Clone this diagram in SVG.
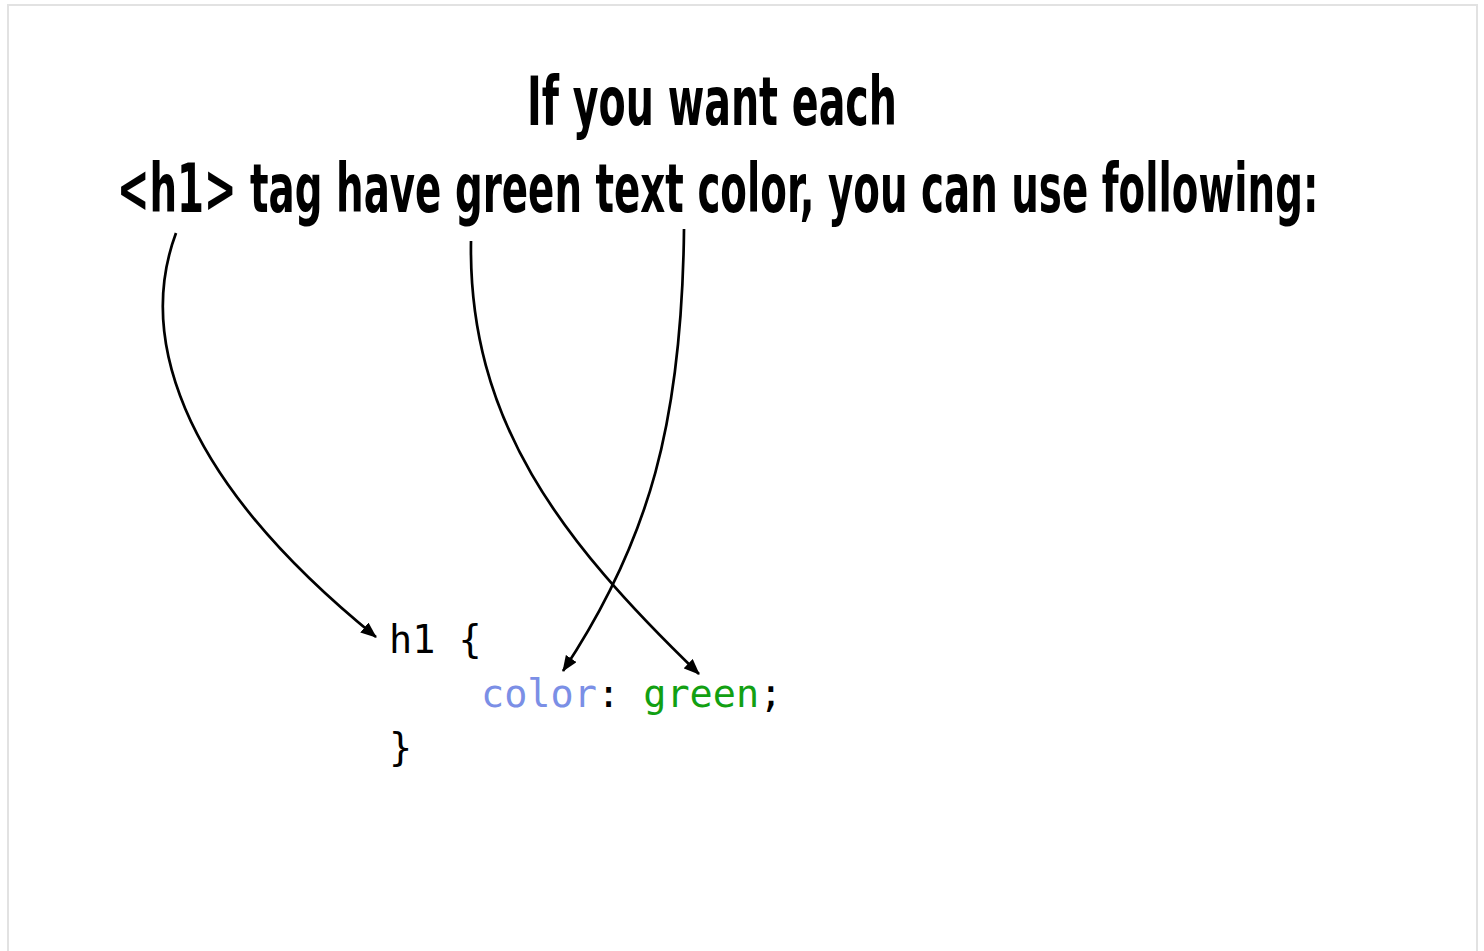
<svg xmlns="http://www.w3.org/2000/svg" width="1484" height="951" viewBox="0 0 1484 951">
<style>
.title{font-family:"Liberation Sans Narrow","DejaVu Sans Condensed","Liberation Sans",sans-serif;font-weight:bold;font-size:68px;fill:#000}
.code{font-family:"DejaVu Sans Mono","Liberation Mono",monospace;font-size:38.5px;fill:#000}
.conn{fill:none;stroke:#000;stroke-width:2.7}
</style>
<defs>
<marker id="ah" viewBox="0 0 16 13" refX="15" refY="6.5" markerWidth="16" markerHeight="13" markerUnits="userSpaceOnUse" orient="auto">
<path d="M0,0 L16,6.5 L0,13 z" fill="#000"/>
</marker>
</defs>
<rect x="0" y="0" width="1484" height="951" fill="#fff"/>
<rect x="8" y="5" width="1469" height="1000" fill="#fff" stroke="#e2e2e2" stroke-width="2"/>
<g id="title">
<text class="title" x="527" y="125" textLength="370" lengthAdjust="spacingAndGlyphs">If you want each</text>
<text class="title" transform="translate(117,212) scale(0.634,1)" x="0" y="0">&lt;h1&gt; tag have green text color, you can use following:</text>
</g>
<g id="code">
<text class="code" x="389" y="653">h1 {</text>
<text class="code" x="481" y="707"><tspan fill="#7b8fe6">color</tspan>: <tspan fill="#12a012">green</tspan>;</text>
<text class="code" x="389" y="761">}</text>
</g>
<g id="connectors">
<path class="conn" marker-end="url(#ah)" d="M176,233 C140,330 170,470 376,637"/>
<path class="conn" marker-end="url(#ah)" d="M471,241 C468,420 560,540 699,674"/>
<path class="conn" marker-end="url(#ah)" d="M684,229 C682,420 650,540 563,671"/>
</g>
</svg>
